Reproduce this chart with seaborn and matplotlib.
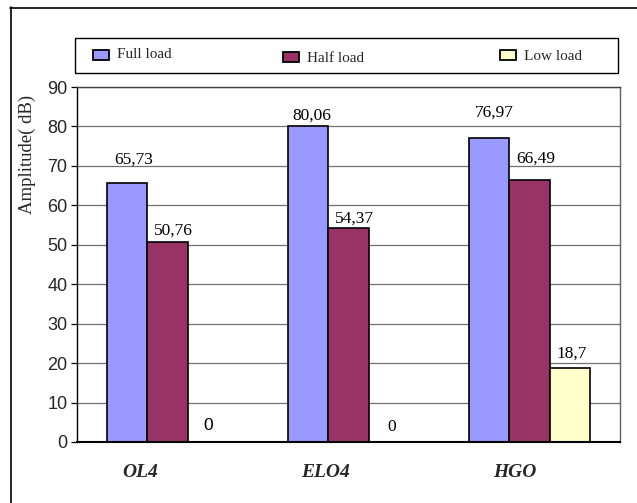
import matplotlib
matplotlib.use("Agg")
import matplotlib.pyplot as plt
import matplotlib.transforms as mtransforms
from matplotlib.patches import Rectangle
from matplotlib.lines import Line2D
import seaborn as sns
import pandas as pd

# Data
categories = ["OL4", "ELO4", "HGO"]
series = ["Full load", "Half load", "Low load"]
full_load = [65.73, 80.06, 76.97]
half_load = [50.76, 54.37, 66.49]
low_load = [0, 0, 18.7]
y_ticks = [0, 10, 20, 30, 40, 50, 60, 70, 80, 90]

colors = ["#9999FF", "#993366", "#FFFFCC"]

sns.set_theme(style="white")
plt.rcParams["font.family"] = ["Liberation Serif", "DejaVu Serif"]

W, H, DPI = 637, 503, 100
fig = plt.figure(figsize=(W / DPI, H / DPI), dpi=DPI, facecolor="white")

def px_x(x):
    return x / W

def px_y(y):
    return 1 - y / H

# plot area in pixels
left, right, top, bottom = 77, 620, 87, 442
ax = fig.add_axes([px_x(left), px_y(bottom), (right - left) / W, (bottom - top) / H])

rows = []
for s, vals in zip(series, [full_load, half_load, low_load]):
    for c, v in zip(categories, vals):
        rows.append({"category": c, "load": s, "amplitude": v})
df = pd.DataFrame(rows)

ax.set_axisbelow(True)
ax.yaxis.grid(True, color="#707070", linewidth=0.9)
sns.barplot(data=df, x="category", y="amplitude", hue="load",
            order=categories, hue_order=series, palette=colors,
            width=0.663, gap=0, saturation=1, edgecolor="black",
            linewidth=1.2, legend=False, ax=ax)

ax.set_ylim(0, 90)
ax.set_xlim(-0.5, 2.5)
ax.set_yticks(y_ticks)
ax.set_yticklabels([str(t) for t in y_ticks], family=["Liberation Sans"], fontsize=13)
ax.tick_params(axis="y", length=4, width=0.9, color="black", left=True, pad=3)
ax.tick_params(axis="x", length=0, pad=16)
ax.set_xticks(range(len(categories)))
ax.set_xticklabels(categories, fontsize=14, fontweight="bold", fontstyle="italic")
# category names sit a little left of the group centres
for lbl, dx in zip(ax.get_xticklabels(), [-27, -23, -15]):
    lbl.set_transform(lbl.get_transform() +
                      mtransforms.ScaledTranslation(dx / DPI, 0, fig.dpi_scale_trans))
ax.set_xlabel("")
ax.set_ylabel("Amplitude( dB)", fontsize=13.5)
ax.yaxis.set_label_coords(-0.0755, 0.81)

for name, sp in ax.spines.items():
    sp.set_visible(True)
    sp.set_linewidth(1.0)
ax.spines["left"].set_color("black")
ax.spines["bottom"].set_color("black")
ax.spines["bottom"].set_linewidth(1.5)
ax.spines["top"].set_color("#404040")
ax.spines["right"].set_color("#606060")

# value labels above each bar (offsets in pixels)
offsets = {
    "Full load": [(6, 23), (3, 11), (5, 26)],
    "Half load": [(6, 11), (6, 9), (6, 21)],
    "Low load": [(1, 17), (3, 15), (2, 15)],
}
label_fonts = {
    ("Low load", 0): ["Liberation Sans"],
}
dodge = [-1, 0, 1]
bar_w = 0.663 / 3
for si, (s, vals) in enumerate(zip(series, [full_load, half_load, low_load])):
    for ci, v in enumerate(vals):
        x = ci + dodge[si] * bar_w
        txt = f"{v:g}".replace(".", ",")
        dx, dy = offsets[s][ci]
        fam = label_fonts.get((s, ci), ["Liberation Serif"])
        ax.annotate(txt, xy=(x, v), xytext=(dx, dy), textcoords="offset pixels",
                    ha="center", va="center", fontsize=12.5, family=fam,
                    color="black")

# legend box
fig.add_artist(Rectangle((px_x(75), px_y(73)), (618 - 75) / W, (73 - 38) / H,
                         transform=fig.transFigure, facecolor="white",
                         edgecolor="black", linewidth=1.0))
legend_items = [
    (93, 50, 117, 55),
    (283, 52, 307, 59),
    (500, 50, 524, 56),
]
for (px0, py0, tx, ty), s, col in zip(legend_items, series, colors):
    fig.add_artist(Rectangle((px_x(px0), px_y(py0 + 10)), 16 / W, 10 / H,
                             transform=fig.transFigure, facecolor=col,
                             edgecolor="black", linewidth=1.3))
    fig.text(px_x(tx), px_y(ty), s, ha="left", va="center", fontsize=11)

# outer chart frame
fig.add_artist(Line2D([px_x(10.5), px_x(10.5)], [px_y(7), 0], transform=fig.transFigure,
                      color="black", linewidth=1.2))
fig.add_artist(Line2D([px_x(10), 1], [px_y(7.5), px_y(7.5)], transform=fig.transFigure,
                      color="black", linewidth=1.2))

fig.savefig("out.png", dpi=DPI, facecolor="white")
